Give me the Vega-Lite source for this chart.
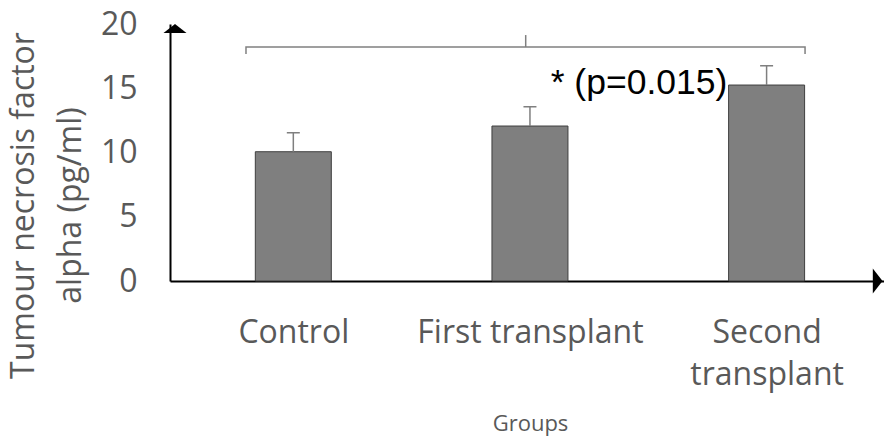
{
  "$schema": "https://vega.github.io/schema/vega-lite/v6.json",
  "width": 714,
  "height": 257,
  "autosize": {"type": "none"},
  "padding": {"left": 170, "top": 24, "right": 0, "bottom": 156},
  "config": {"view": {"stroke": null}, "font": "Open Sans"},
  "datasets": {
    "groups": [
      {"group": "Control", "pos": 0.5, "value": 10.06, "upper": 11.54},
      {"group": "First transplant", "pos": 1.5, "value": 12.06, "upper": 13.56},
      {"group": "Second transplant", "pos": 2.5, "value": 15.25, "upper": 16.75}
    ],
    "bracket": [
      {"pos": 0.3, "value": 17.67, "o": 1},
      {"pos": 0.3, "value": 18.21, "o": 2},
      {"pos": 2.6625, "value": 18.21, "o": 3},
      {"pos": 2.6625, "value": 17.67, "o": 4}
    ],
    "single": [{"note": "* (p=0.015)"}]
  },
  "layer": [
    {
      "data": {"name": "groups"},
      "mark": {"type": "bar", "orient": "vertical", "width": 76, "fill": "#7f7f7f", "stroke": "#3f3f3f", "strokeWidth": 1},
      "encoding": {
        "x": {
          "field": "pos", "type": "quantitative",
          "scale": {"domain": [0, 2.975], "nice": false, "zero": false},
          "axis": {
            "values": [0.5, 1.5, 2.5],
            "labelExpr": "datum.value == 0.5 ? 'Control' : datum.value == 1.5 ? 'First transplant' : ['Second', 'transplant']",
            "title": "Groups",
            "titleX": 360, "titleY": 132, "titleBaseline": "top", "titleAlign": "center",
            "titleFont": "Open Sans", "titleFontSize": 22, "titleFontWeight": "normal", "titleColor": "#595959",
            "labelFont": "Open Sans", "labelFontSize": 32, "labelColor": "#595959", "labelLimit": 0,
            "labelPadding": 36, "labelLineHeight": 42,
            "labelFlush": false, "labelOverlap": false, "labelBound": false,
            "ticks": false, "grid": false,
            "domainColor": "#000000", "domainWidth": 2
          }
        },
        "y": {
          "field": "value", "type": "quantitative",
          "scale": {"domain": [0, 20], "nice": false},
          "axis": {
            "values": [0, 5, 10, 15, 20],
            "title": ["Tumour necrosis factor", "alpha (pg/ml)"],
            "titleX": -162, "titleY": 181, "titleBaseline": "top", "titleAlign": "center", "titleAngle": -90,
            "titleLineHeight": 47, "titleLimit": 0,
            "titleFont": "Open Sans", "titleFontSize": 32, "titleFontWeight": "normal", "titleColor": "#595959",
            "labelFont": "Open Sans", "labelFontSize": 32, "labelColor": "#595959",
            "labelPadding": 33, "labelFlush": false, "labelOverlap": false, "labelBound": false,
            "ticks": false, "grid": false,
            "domainColor": "#000000", "domainWidth": 2
          }
        }
      }
    },
    {
      "data": {"name": "groups"},
      "mark": {"type": "rule", "color": "#7f7f7f", "strokeWidth": 1.5},
      "encoding": {
        "x": {"field": "pos", "type": "quantitative"},
        "y": {"field": "value", "type": "quantitative"},
        "y2": {"field": "upper"}
      }
    },
    {
      "data": {"name": "groups"},
      "mark": {"type": "tick", "orient": "horizontal", "size": 13, "thickness": 1.5, "color": "#7f7f7f", "opacity": 1},
      "encoding": {
        "x": {"field": "pos", "type": "quantitative"},
        "y": {"field": "upper", "type": "quantitative"}
      }
    },
    {
      "data": {"name": "bracket"},
      "mark": {"type": "line", "color": "#808080", "strokeWidth": 1.5},
      "encoding": {
        "x": {"field": "pos", "type": "quantitative"},
        "y": {"field": "value", "type": "quantitative"},
        "order": {"field": "o"}
      }
    },
    {
      "data": {"name": "single"},
      "mark": {"type": "rule", "color": "#808080", "strokeWidth": 1.5},
      "encoding": {
        "x": {"datum": 1.482, "type": "quantitative"},
        "y": {"datum": 18.21, "type": "quantitative"},
        "y2": {"datum": 19.14}
      }
    },
    {
      "data": {"name": "single"},
      "mark": {"type": "text", "font": "Liberation Sans", "fontSize": 35.5, "color": "#000000", "align": "left", "baseline": "alphabetic"},
      "encoding": {
        "text": {"field": "note"},
        "x": {"datum": 1.5875, "type": "quantitative"},
        "y": {"datum": 14.55, "type": "quantitative"}
      }
    },
    {
      "data": {"name": "single"},
      "mark": {"type": "point", "shape": "M0,0L1,0.78L-1,0.78Z", "size": 529, "filled": true, "color": "#000000", "opacity": 1, "strokeWidth": 0},
      "encoding": {
        "x": {"datum": 0, "type": "quantitative"},
        "y": {"datum": 20, "type": "quantitative"}
      }
    },
    {
      "data": {"name": "single"},
      "mark": {"type": "point", "shape": "M0,0L-0.78,-1L-0.78,1Z", "size": 625, "filled": true, "color": "#000000", "opacity": 1, "strokeWidth": 0},
      "encoding": {
        "x": {"datum": 2.99, "type": "quantitative"},
        "y": {"datum": 0, "type": "quantitative"}
      }
    }
  ]
}
